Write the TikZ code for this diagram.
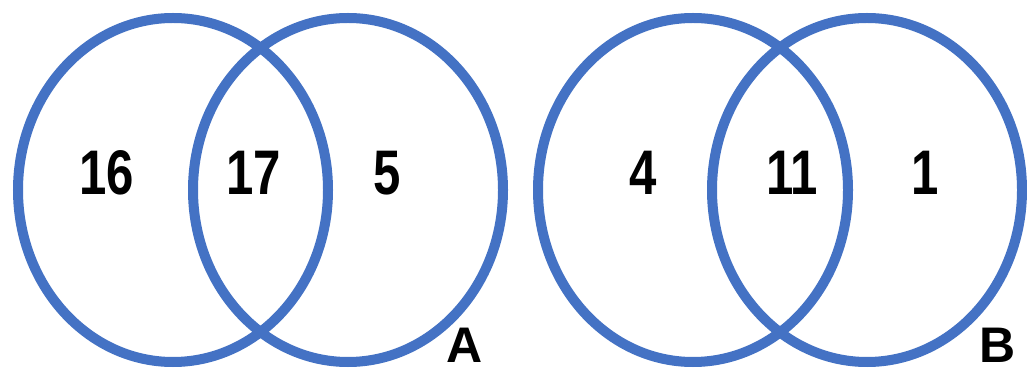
\documentclass[tikz,border=0pt]{standalone}
\usepackage{fontspec}
\setmainfont{Liberation Sans}
\usetikzlibrary{shapes.geometric}
\definecolor{vennblue}{HTML}{4472C4}
\begin{document}
\begin{tikzpicture}[x=1pt,y=1pt,
  setring/.style={ellipse, draw=vennblue, line width=10pt, inner sep=0pt,
    minimum width=310pt, minimum height=344pt},
  num/.style={font=\fontsize{63}{63}\selectfont\bfseries, xscale=0.78, inner sep=0pt},
  tag/.style={font=\fontsize{50}{50}\selectfont\bfseries, inner sep=0pt}]
\useasboundingbox (0,0) rectangle (1027,369);
\fill[white] (0,0) rectangle (1027,369);
\node[setring] (a1) at (173,179) {};
\node[setring] (a2) at (348,179) {};
\node[setring] (b1) at (693,179) {};
\node[setring] (b2) at (867,179) {};
\node[num] (n16) at (107,196) {16};
\node[num] (n17) at (254,196) {17};
\node[num] (n5) at (387,196) {5};
\node[num] (n4) at (643,196) {4};
\node[num] (n11) at (792,196) {11};
\node[num] (n1) at (925,196) {1};
\node[tag] (la) at (465,24) {A};
\node[tag] (lb) at (998,24) {B};
\end{tikzpicture}
\end{document}
